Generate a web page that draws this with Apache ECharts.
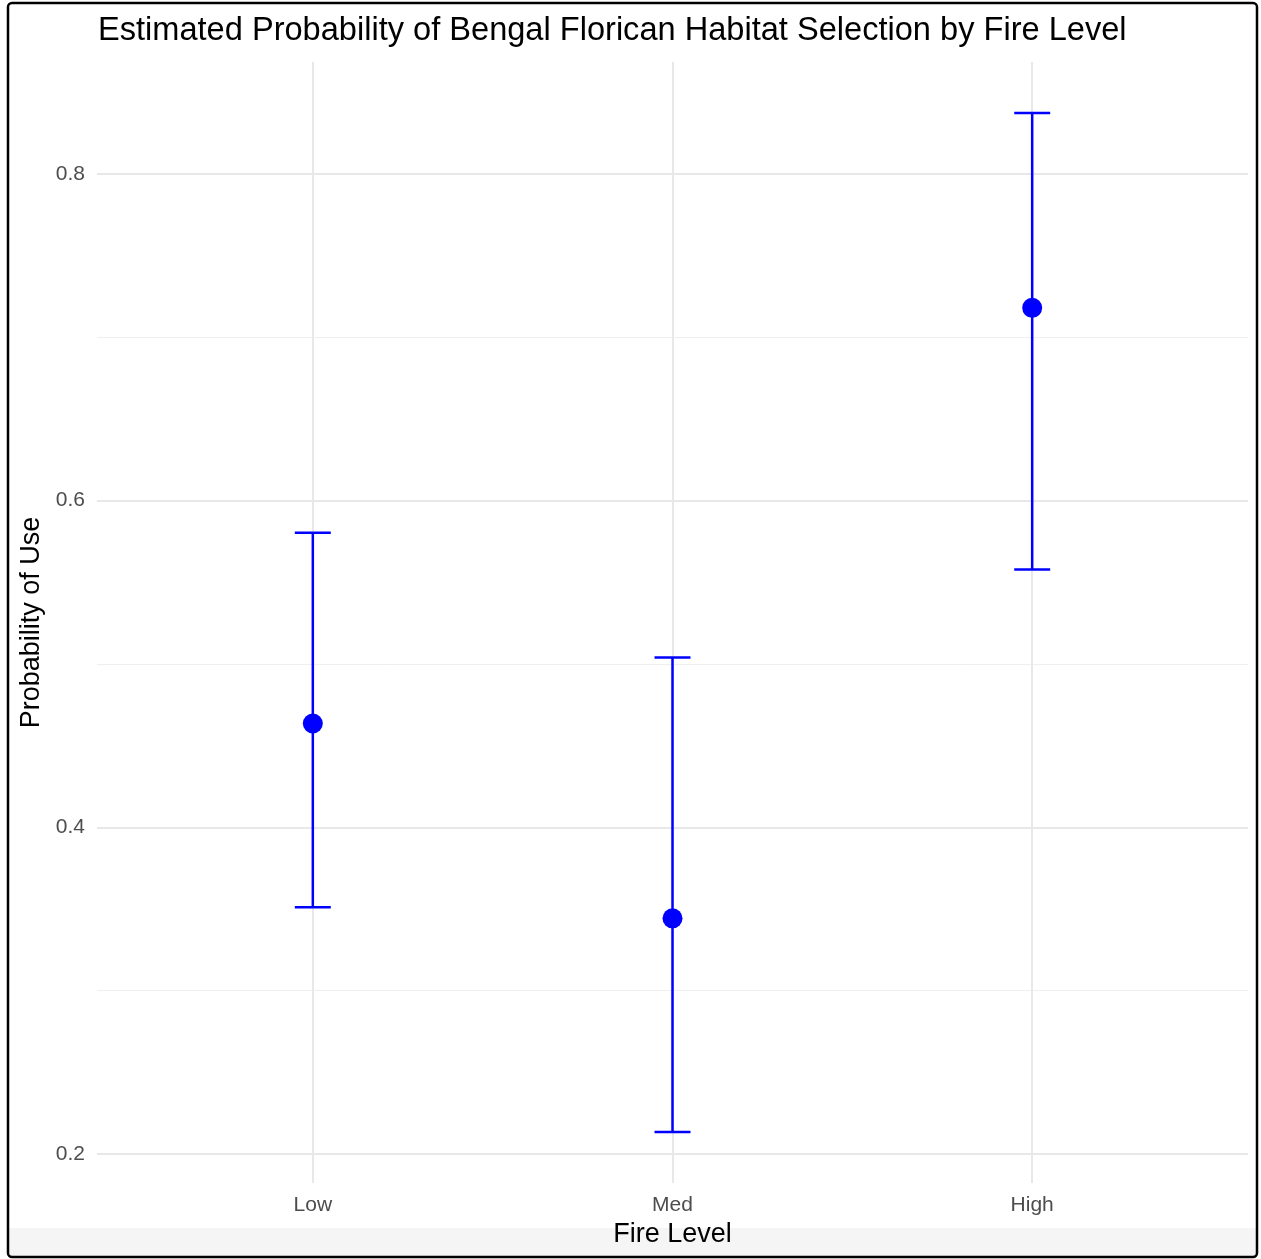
<!DOCTYPE html>
<html>
<head>
<meta charset="utf-8">
<script src="https://cdn.jsdelivr.net/npm/echarts@6/dist/echarts.min.js"></script>
<style>
html,body{margin:0;padding:0;background:#fff;}
#main{width:1261px;height:1259px;}
</style>
</head>
<body>
<div id="main"></div>
<script>
const categories = ['Low', 'Med', 'High'];
const estimates = [0.4636, 0.3443, 0.7180];
const lowerCI = [0.3511, 0.2135, 0.5578];
const upperCI = [0.5804, 0.5040, 0.8373];
const majorTicks = [0.2, 0.4, 0.6, 0.8];
const minorTicks = [0.3, 0.5, 0.7];

const xPos = categories.map((c, i) => i + 1);
const pointData = estimates.map((v, i) => [xPos[i], v]);
const barData = estimates.map((v, i) => [xPos[i], lowerCI[i], upperCI[i]]);

const FONT = 'Liberation Sans, Arial, Helvetica, sans-serif';
const BLUE = '#0000FF';

const chart = echarts.init(document.getElementById('main'));
chart.setOption({
  backgroundColor: '#ffffff',
  animation: false,
  title: {
    text: 'Estimated Probability of Bengal Florican Habitat Selection by Fire Level',
    left: 93,
    top: 10,
    textStyle: { fontFamily: FONT, fontSize: 32.6, fontWeight: 'normal', color: '#000' }
  },
  graphic: [
    { type: 'rect', z: -10, silent: true, shape: { x: 9, y: 1228, width: 1247, height: 28 },
      style: { fill: '#f5f5f5' } },
    { type: 'rect', z: 100, silent: true, shape: { x: 8, y: 3, width: 1249, height: 1254, r: 4 },
      style: { fill: 'none', stroke: '#000', lineWidth: 2.5 } }
  ],
  grid: { left: 97, right: 13, top: 62, bottom: 76, containLabel: false },
  xAxis: {
    type: 'value',
    min: 0.4,
    max: 3.6,
    name: 'Fire Level',
    nameLocation: 'middle',
    nameGap: 38,
    nameTextStyle: { fontFamily: FONT, fontSize: 27, color: '#000' },
    axisLine: { show: false },
    axisTick: { show: false, customValues: xPos },
    axisLabel: {
      customValues: xPos,
      formatter: v => categories[Math.round(v) - 1] || '',
      fontFamily: FONT, fontSize: 21, color: '#4d4d4d', margin: 12
    },
    splitLine: { show: true, lineStyle: { color: '#e8e8e8', width: 2 } }
  },
  yAxis: [
    {
      type: 'value',
      min: 0.1823,
      max: 0.8685,
      name: 'Probability of Use',
      nameLocation: 'middle',
      nameRotate: 90,
      nameGap: 50,
      nameTextStyle: { fontFamily: FONT, fontSize: 27, color: '#000' },
      axisLine: { show: false },
      axisTick: { show: false, customValues: majorTicks },
      axisLabel: {
        customValues: majorTicks,
        formatter: v => v.toFixed(1),
        fontFamily: FONT, fontSize: 21, color: '#4d4d4d', margin: 12
      },
      splitLine: { show: true, lineStyle: { color: '#e8e8e8', width: 2 } }
    },
    {
      type: 'value',
      min: 0.1823,
      max: 0.8685,
      position: 'left',
      axisLine: { show: false },
      axisTick: { show: false, customValues: minorTicks },
      axisLabel: { show: false, customValues: minorTicks },
      splitLine: { show: true, lineStyle: { color: '#efefef', width: 1 } }
    }
  ],
  series: [
    {
      type: 'custom',
      yAxisIndex: 0,
      z: 5,
      data: barData,
      renderItem: function (params, api) {
        const x = api.value(0);
        const lo = api.coord([x, api.value(1)]);
        const hi = api.coord([x, api.value(2)]);
        const half = api.size([0.1, 0])[0] / 2;
        const style = { stroke: BLUE, lineWidth: 2.5 };
        return {
          type: 'group',
          children: [
            { type: 'line', shape: { x1: lo[0], y1: lo[1], x2: hi[0], y2: hi[1] }, style: style },
            { type: 'line', shape: { x1: lo[0] - half, y1: lo[1], x2: lo[0] + half, y2: lo[1] }, style: style },
            { type: 'line', shape: { x1: hi[0] - half, y1: hi[1], x2: hi[0] + half, y2: hi[1] }, style: style }
          ]
        };
      }
    },
    {
      type: 'scatter',
      yAxisIndex: 0,
      z: 10,
      symbol: 'circle',
      symbolSize: 20,
      itemStyle: { color: BLUE, opacity: 1 },
      data: pointData
    }
  ]
});
</script>
</body>
</html>
